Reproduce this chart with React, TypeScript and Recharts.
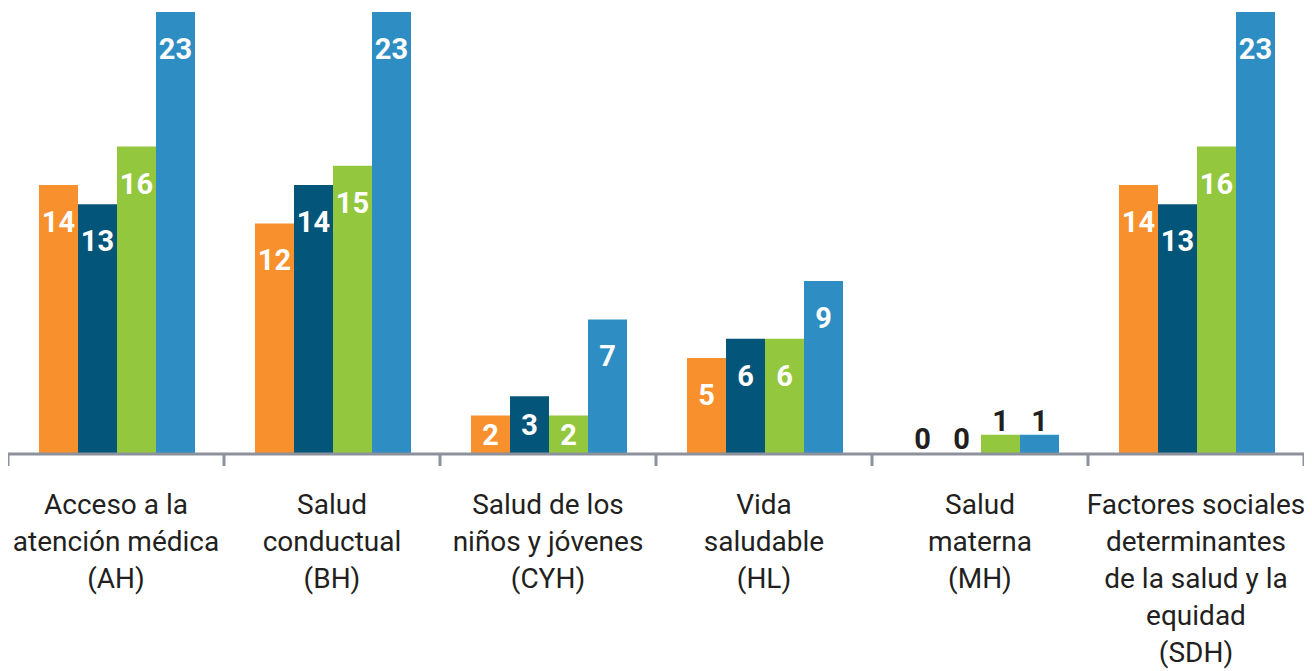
import React from 'react';
import { BarChart, Bar, XAxis, YAxis, LabelList } from 'recharts';

const categories = ['AH', 'BH', 'CYH', 'HL', 'MH', 'SDH'];
const tickLabels = [
  ['Acceso a la', 'atención médica', '(AH)'],
  ['Salud', 'conductual', '(BH)'],
  ['Salud de los', 'niños y jóvenes', '(CYH)'],
  ['Vida', 'saludable', '(HL)'],
  ['Salud', 'materna', '(MH)'],
  ['Factores sociales', 'determinantes', 'de la salud y la', 'equidad', '(SDH)'],
];
const serieA = [14, 12, 2, 5, 0, 14];
const serieB = [13, 14, 3, 6, 0, 13];
const serieC = [16, 15, 2, 6, 1, 16];
const serieD = [23, 23, 7, 9, 1, 23];

const colors = ['#F7902D', '#04557A', '#93C83E', '#2E8DC2'];
const keys = ['a', 'b', 'c', 'd'];
const AXIS = '#8C919B';

const data = categories.map((c, i) => ({
  name: c,
  a: serieA[i],
  b: serieB[i],
  c: serieC[i],
  d: serieD[i],
}));

const FONT = 'Roboto, "Noto Sans", sans-serif';

const CategoryTick = (props: any) => {
  const { x, y, payload, index } = props;
  const lines = tickLabels[categories.indexOf(payload.value)] || [];
  const half = payload.offset ?? 108;
  const last = index === categories.length - 1;
  return (
    <g>
      <line x1={x - half} y1={y} x2={x - half} y2={y + 12} stroke={AXIS} strokeWidth={3} />
      {last && <line x1={x + half} y1={y} x2={x + half} y2={y + 12} stroke={AXIS} strokeWidth={3} />}
      <text x={x} y={y} textAnchor="middle" fill="#231F20" fontFamily={FONT} fontSize={28}>
        {lines.map((l, i) => (
          <tspan key={i} x={x} y={y + 60 + i * 37}>{l}</tspan>
        ))}
      </text>
    </g>
  );
};

const BarValue = (props: any) => {
  const { x, y, width, height, value } = props;
  const cx = x + width / 2;
  if (value <= 1) {
    return (
      <text x={cx} y={y - 4} textAnchor="middle" fill="#231F20" fontFamily={FONT} fontWeight={700} fontSize={29}>
        {value}
      </text>
    );
  }
  const mid = y + Math.min(37, height / 2);
  return (
    <text x={cx} y={mid + 10} textAnchor="middle" fill="#FFFFFF" fontFamily={FONT} fontWeight={700} fontSize={29}>
      {value}
    </text>
  );
};

export default function App() {
  return (
    <BarChart
      width={1296}
      height={663}
      data={data}
      margin={{ top: 4, right: 0, left: 0, bottom: 0 }}
      barCategoryGap={31}
      barGap={0}
    >
      <XAxis
        dataKey="name"
        height={217}
        axisLine={{ stroke: AXIS, strokeWidth: 3 }}
        tickLine={false}
        tickSize={0}
        tickMargin={0}
        interval={0}
        tick={<CategoryTick />}
      />
      <YAxis hide domain={[0, 23]} />
      {keys.map((k, i) => (
        <Bar key={k} dataKey={k} fill={colors[i]} minPointSize={1} isAnimationActive={false}>
          <LabelList dataKey={k} content={<BarValue />} />
        </Bar>
      ))}
    </BarChart>
  );
}
